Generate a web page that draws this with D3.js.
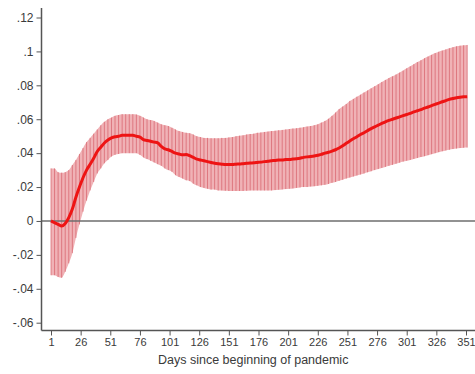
<!DOCTYPE html>
<html>
<head>
<meta charset="utf-8">
<script src="https://cdn.jsdelivr.net/npm/d3@7"></script>
<style>
  html, body { margin: 0; padding: 0; background: #fff; }
  svg { display: block; }
  text { font-family: "Liberation Sans", Arial, sans-serif; fill: #3a3a3a; }
</style>
</head>
<body>
<svg id="chart" width="475" height="374"></svg>
<script>
// Days since the beginning of the pandemic (every third day)
const days = d3.range(1, 353, 3);

// Point estimates
const estimate = [
  0.000, -0.001, -0.002, -0.003, -0.0015, 0.002, 0.007, 0.014, 0.020, 0.0255,
  0.030, 0.0335, 0.037, 0.041, 0.0435, 0.046, 0.0478, 0.049, 0.0497, 0.050,
  0.0505, 0.0505, 0.0505, 0.0505, 0.050, 0.0495, 0.048, 0.0475, 0.047, 0.0465,
  0.046, 0.044, 0.0425, 0.042, 0.041, 0.040, 0.0395, 0.039, 0.0392, 0.0385,
  0.0375, 0.0365, 0.036, 0.0355, 0.035, 0.0345, 0.034, 0.0337, 0.0335, 0.0333,
  0.0333, 0.0333, 0.0335, 0.0336, 0.0338, 0.034, 0.0342, 0.0343, 0.0345, 0.0347,
  0.035, 0.0352, 0.0355, 0.0357, 0.036, 0.036, 0.0362, 0.0363, 0.0365, 0.0367,
  0.037, 0.0375, 0.0378, 0.038, 0.0383, 0.0388, 0.0393, 0.040, 0.0405, 0.0412,
  0.042, 0.043, 0.0443, 0.0458, 0.0472, 0.0485, 0.0497, 0.051, 0.052, 0.0533,
  0.0545, 0.0555, 0.0565, 0.0575, 0.0585, 0.0593, 0.060, 0.0607, 0.0614, 0.0621,
  0.0628, 0.0635, 0.0643, 0.065, 0.0657, 0.0665, 0.0672, 0.068, 0.0688, 0.0695,
  0.0703, 0.071, 0.0717, 0.0722, 0.0727, 0.073, 0.0732, 0.0733
];

// Lower bound of the confidence interval
const lower = [
  -0.032, -0.032, -0.033, -0.0335, -0.030, -0.025, -0.019, -0.010, -0.002, 0.0055,
  0.012, 0.018, 0.023, 0.028, 0.031, 0.034, 0.036, 0.038, 0.039, 0.0395,
  0.040, 0.040, 0.040, 0.040, 0.040, 0.039, 0.0375, 0.0365, 0.0355, 0.0345,
  0.0335, 0.0325, 0.031, 0.030, 0.029, 0.027, 0.026, 0.025, 0.024, 0.0235,
  0.022, 0.021, 0.020, 0.0195, 0.019, 0.0185, 0.0185, 0.018, 0.018, 0.0178,
  0.0177, 0.0177, 0.0177, 0.0177, 0.0177, 0.0178, 0.018, 0.018, 0.018, 0.018,
  0.018, 0.018, 0.018, 0.0182, 0.0184, 0.0186, 0.0188, 0.019, 0.0192, 0.0195,
  0.0198, 0.020, 0.020, 0.0203, 0.0205, 0.0207, 0.021, 0.0213, 0.0218, 0.0225,
  0.023, 0.0237, 0.0243, 0.025, 0.0256, 0.0262, 0.0268, 0.0274, 0.028, 0.0287,
  0.0293, 0.030, 0.0306, 0.0313, 0.0319, 0.0325, 0.0331, 0.0338, 0.0344, 0.035,
  0.0355, 0.036, 0.0366, 0.0371, 0.0377, 0.0382, 0.0388, 0.0394, 0.040, 0.0406,
  0.0411, 0.0416, 0.042, 0.0424, 0.0427, 0.043, 0.0432, 0.0433
];

// Upper bound of the confidence interval
const upper = [
  0.031, 0.031, 0.0288, 0.0285, 0.0288, 0.030, 0.033, 0.036, 0.0395, 0.043,
  0.0465, 0.049, 0.0515, 0.054, 0.0565, 0.0585, 0.060, 0.061, 0.062, 0.0625,
  0.063, 0.063, 0.063, 0.063, 0.0628, 0.062, 0.061, 0.060, 0.0595, 0.059,
  0.058, 0.057, 0.0565, 0.056, 0.055, 0.054, 0.053, 0.0525, 0.052, 0.0518,
  0.051, 0.050, 0.0495, 0.049, 0.049, 0.0488, 0.0488, 0.0488, 0.049, 0.049,
  0.0493, 0.0495, 0.050, 0.0503, 0.0505, 0.051, 0.0513, 0.0515, 0.052, 0.0522,
  0.0525, 0.0527, 0.053, 0.0532, 0.0535, 0.0537, 0.054, 0.0542, 0.0545, 0.0547,
  0.055, 0.0553, 0.0557, 0.056, 0.0565, 0.057, 0.058, 0.059, 0.0603, 0.062,
  0.064, 0.066, 0.0675, 0.069, 0.0708, 0.072, 0.0733, 0.0745, 0.0758, 0.077,
  0.0782, 0.0795, 0.0807, 0.082, 0.0832, 0.0843, 0.0853, 0.0864, 0.0875, 0.0887,
  0.090, 0.0912, 0.0925, 0.0937, 0.0948, 0.096, 0.097, 0.098, 0.099, 0.0998,
  0.1005, 0.1012, 0.1019, 0.1025, 0.103, 0.1034, 0.1036, 0.1038
];

// Axis ticks
const xTicks = [1, 26, 51, 76, 101, 126, 151, 176, 201, 226, 251, 276, 301, 326, 351];
const yTicks = [-0.06, -0.04, -0.02, 0, 0.02, 0.04, 0.06, 0.08, 0.1, 0.12];
const yTickLabels = ["-.06", "-.04", "-.02", "0", ".02", ".04", ".06", ".08", ".1", ".12"];
const xTitle = "Days since beginning of pandemic";

const rows = days.map((d, i) => ({ day: d, est: estimate[i], lo: lower[i], hi: upper[i] }));

const svg = d3.select("#chart");
const axisX = 41.5, axisY = 330.5, rightEdge = 475;

const x = d3.scaleLinear().domain([1, 351]).range([51, 466]);
const y = d3.scaleLinear().domain([-0.06, 0.12]).range([322.7, 17.5]);

// Confidence band: shaded area plus one spike per day
svg.append("path")
  .datum(rows)
  .attr("fill", "#f0b2b6")
  .attr("d", d3.area()
    .x(d => x(d.day))
    .y0(d => y(d.lo))
    .y1(d => y(d.hi))
    .curve(d3.curveMonotoneX));

svg.append("g")
  .selectAll("line")
  .data(rows)
  .join("line")
  .attr("x1", d => x(d.day))
  .attr("x2", d => x(d.day))
  .attr("y1", d => y(d.lo))
  .attr("y2", d => y(d.hi))
  .attr("stroke", "#d65e68")
  .attr("stroke-width", 0.7);

// Zero reference line
svg.append("line")
  .attr("x1", axisX).attr("x2", rightEdge)
  .attr("y1", y(0)).attr("y2", y(0))
  .attr("stroke", "#6e6e6e").attr("stroke-width", 1.5);

// Point estimate line
svg.append("path")
  .datum(rows)
  .attr("fill", "none")
  .attr("stroke", "#ee1414")
  .attr("stroke-width", 3)
  .attr("stroke-linejoin", "round")
  .attr("d", d3.line().x(d => x(d.day)).y(d => y(d.est)).curve(d3.curveMonotoneX));

// Y axis
const yAxis = d3.axisLeft(y)
  .tickValues(yTicks)
  .tickFormat((d, i) => yTickLabels[i])
  .tickSize(5)
  .tickPadding(3);
const gy = svg.append("g").attr("transform", `translate(${axisX},0)`).call(yAxis);
gy.select(".domain").remove();
gy.append("line")
  .attr("x1", 0).attr("x2", 0).attr("y1", 8).attr("y2", axisY)
  .attr("stroke", "#555").attr("stroke-width", 1.5);
gy.selectAll(".tick line").attr("stroke", "#555").attr("stroke-width", 1);
gy.selectAll(".tick text")
  .attr("fill", "#3a3a3a")
  .style("font-size", "12px")
  .style("font-family", "'Liberation Sans', Arial, sans-serif");

// X axis
const xAxis = d3.axisBottom(x)
  .tickValues(xTicks)
  .tickFormat(d3.format("d"))
  .tickSize(5)
  .tickPadding(3);
const gx = svg.append("g").attr("transform", `translate(0,${axisY})`).call(xAxis);
gx.select(".domain").remove();
gx.append("line")
  .attr("x1", axisX).attr("x2", rightEdge).attr("y1", 0).attr("y2", 0)
  .attr("stroke", "#555").attr("stroke-width", 1.5);
gx.selectAll(".tick line").attr("stroke", "#555").attr("stroke-width", 1);
gx.selectAll(".tick text")
  .attr("fill", "#3a3a3a")
  .style("font-size", "11px")
  .style("font-family", "'Liberation Sans', Arial, sans-serif");

// X axis title
svg.append("text")
  .attr("x", 158)
  .attr("y", 363.5)
  .style("font-size", "12.5px")
  .text(xTitle);
</script>
</body>
</html>
